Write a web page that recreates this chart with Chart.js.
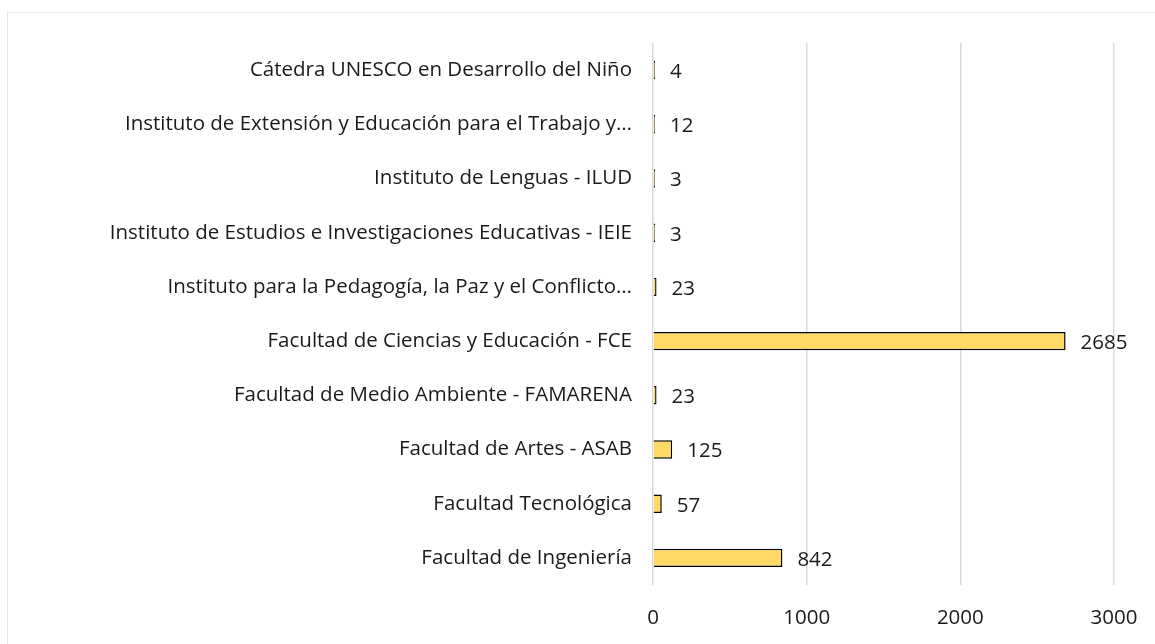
<!DOCTYPE html>
<html>
<head>
<meta charset="utf-8">
<script src="https://cdn.jsdelivr.net/npm/chart.js@4"></script>
<style>
	body { margin: 0; background: #fff; }
	#frame { position: absolute; left: 7px; top: 12px; width: 1160px; height: 650px; border: 1px solid #e6e6e6; }
	#wrap { position: absolute; left: 0; top: 0; width: 1155px; height: 644px; }
</style>
</head>
<body>
<div id="frame"></div>
<div id="wrap"><canvas id="myChart"></canvas></div>
<script>
var labels = [
	"Cátedra UNESCO en Desarrollo del Niño",
	"Instituto de Extensión y Educación para el Trabajo y…",
	"Instituto de Lenguas - ILUD",
	"Instituto de Estudios e Investigaciones Educativas - IEIE",
	"Instituto para la Pedagogía, la Paz y el Conflicto…",
	"Facultad de Ciencias y Educación - FCE",
	"Facultad de Medio Ambiente - FAMARENA",
	"Facultad de Artes - ASAB",
	"Facultad Tecnológica",
	"Facultad de Ingeniería",
];
var values = [4, 12, 3, 3, 23, 2685, 23, 125, 57, 842];
var xTicks = [0, 1000, 2000, 3000];

var textColor = "#1a1a1a";
var fontFamily = "'Open Sans', sans-serif";
var fontSize = 20.5;

// value labels to the right of each bar
var valueLabels = {
	id: "valueLabels",
	afterDatasetsDraw(chart) {
		const ctx = chart.ctx;
		const meta = chart.getDatasetMeta(0);
		ctx.save();
		ctx.font = fontSize + "px " + fontFamily;
		ctx.fillStyle = textColor;
		ctx.textAlign = "left";
		ctx.textBaseline = "middle";
		meta.data.forEach((bar, i) => {
			ctx.fillText(String(values[i]), bar.x + 15, bar.y + 2);
		});
		ctx.restore();
	},
};

Chart.defaults.font.family = fontFamily;
Chart.defaults.font.size = fontSize;
Chart.defaults.color = textColor;

new Chart("myChart", {
	type: "bar",
	data: {
		labels: labels,
		datasets: [
			{
				data: values,
				backgroundColor: "#FFD966",
				borderColor: "#000000",
				borderWidth: 1.5,
				minBarLength: 2,
				barPercentage: 0.34,
				categoryPercentage: 1,
			},
		],
	},
	options: {
		indexAxis: "y",
		responsive: true,
		maintainAspectRatio: false,
		animation: false,
		layout: { padding: { top: 43, right: 41, bottom: 0, left: 0 } },
		plugins: {
			legend: { display: false },
			tooltip: { enabled: false },
		},
		scales: {
			x: {
				min: 0,
				max: 3000,
				afterBuildTicks: (scale) => {
					scale.ticks = xTicks.map((v) => ({ value: v }));
				},
				afterFit: (scale) => {
					scale.height = 59;
					scale.paddingLeft = 0;
					scale.paddingRight = 0;
				},
				grid: { color: "#d9d9d9", lineWidth: 1.5, drawTicks: false },
				border: { display: false },
				ticks: { padding: 21, maxRotation: 0, callback: (v) => String(v) },
			},
			y: {
				afterFit: (scale) => {
					scale.width = 653;
				},
				grid: { display: false },
				border: { display: false },
				ticks: { padding: 13, autoSkip: false },
			},
		},
	},
	plugins: [valueLabels],
});
</script>
</body>
</html>
